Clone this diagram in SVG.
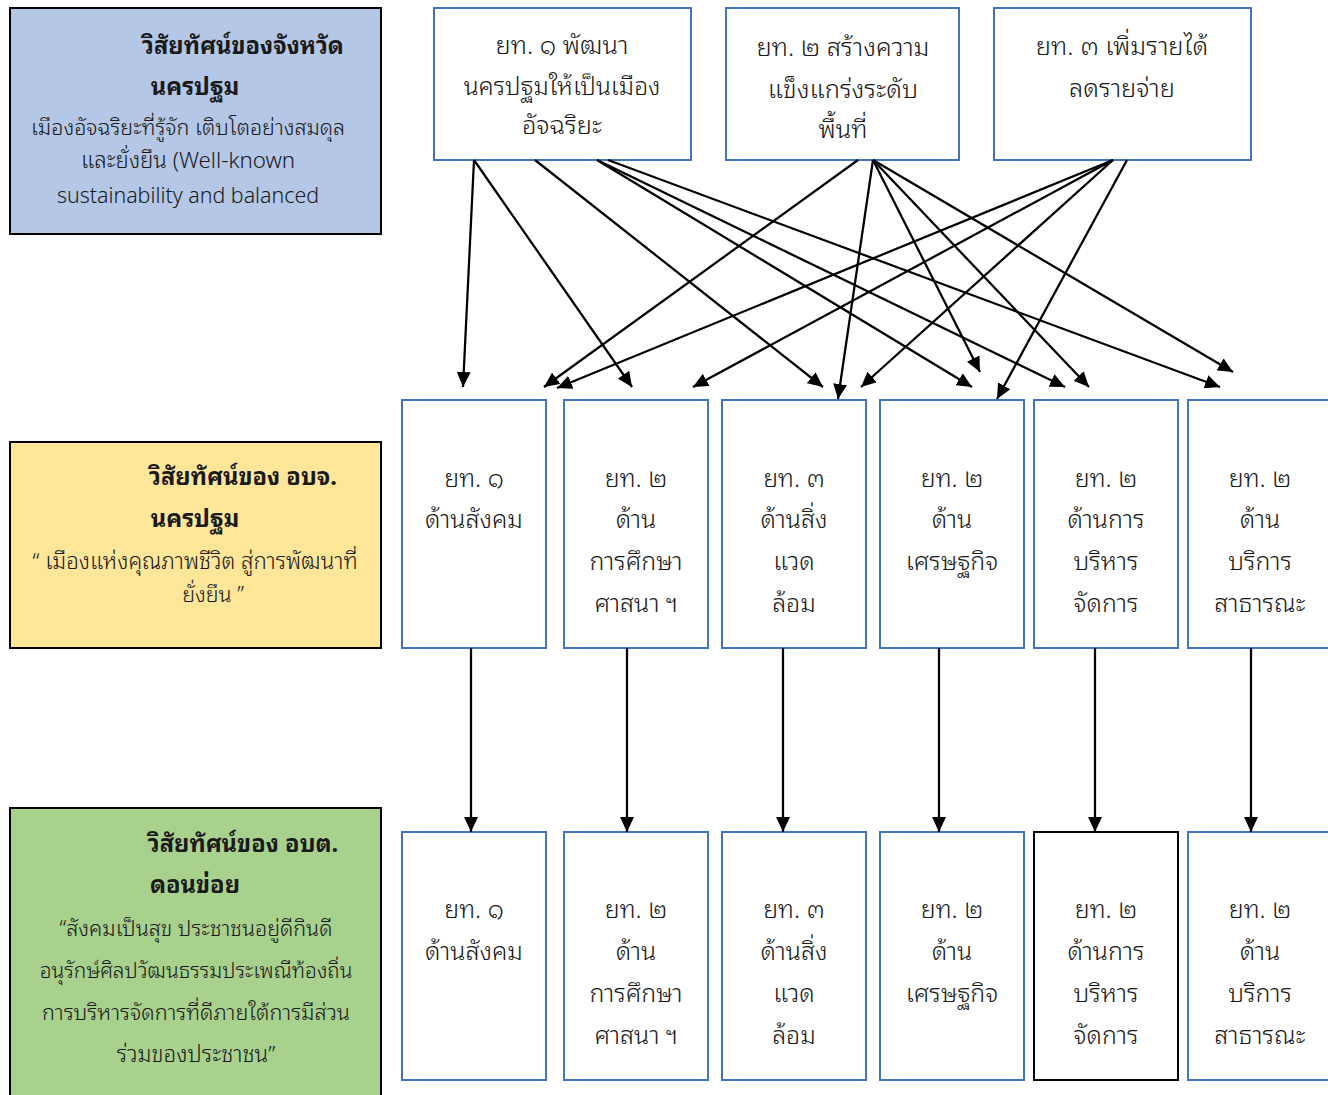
<svg xmlns="http://www.w3.org/2000/svg" width="1328" height="1095" viewBox="0 0 1328 1095">
<defs>
<marker id="ah" markerUnits="userSpaceOnUse" markerWidth="16" markerHeight="14" refX="15" refY="7" orient="auto">
<path d="M0,0 L15,7 L0,14 z" fill="#000"/>
</marker>
<style>
text{font-family:"Noto Sans Thai Looped","Noto Sans Thai","Noto Sans","DejaVu Sans",sans-serif;font-size:25px;font-weight:300;fill:#1a1a1a;text-anchor:middle}
.t{font-size:25.5px}
.b{font-weight:bold;font-size:23.7px}
.v{font-size:21.5px}
.vis{stroke:#000;stroke-width:2}
.n rect{fill:#fff;stroke:#4472C4;stroke-width:2}
.n rect.k{stroke:#000}
.c line{stroke:#000;stroke-width:2.25;marker-end:url(#ah)}
</style>
</defs>
<rect width="1328" height="1095" fill="#fff"/>

<g id="vision-province">
<rect class="vis" x="10" y="8" width="371" height="226" fill="#B4C7E7"/>
<text class="b" x="243" y="54">วิสัยทัศน์ของจังหวัด</text>
<text class="b" x="195" y="95">นครปฐม</text>
<text class="v" x="188" y="135">เมืองอัจฉริยะที่รู้จัก เติบโตอย่างสมดุล</text>
<text class="v" x="188" y="168" style="font-size:22.3px">และยั่งยืน (Well-known</text>
<text class="v" x="188" y="203" style="font-size:21.4px">sustainability and balanced</text>
</g>

<g id="vision-pao">
<rect class="vis" x="10" y="442" width="371" height="206" fill="#FFE699"/>
<text class="b" x="243" y="485">วิสัยทัศน์ของ อบจ.</text>
<text class="b" x="195" y="527">นครปฐม</text>
<text class="v" x="195" y="569" style="font-size:22.3px">“ เมืองแห่งคุณภาพชีวิต สู่การพัฒนาที่</text>
<text class="v" x="213" y="602">ยั่งยืน ”</text>
</g>

<g id="vision-sao">
<rect class="vis" x="10" y="808" width="371" height="300" fill="#A9D18E"/>
<text class="b" x="243" y="852">วิสัยทัศน์ของ อบต.</text>
<text class="b" x="195" y="893">ดอนข่อย</text>
<text class="v" x="196" y="936">“สังคมเป็นสุข ประชาชนอยู่ดีกินดี</text>
<text class="v" x="196" y="978" style="font-size:20.9px">อนุรักษ์ศิลปวัฒนธรรมประเพณีท้องถิ่น</text>
<text class="v" x="196" y="1020" style="font-size:21.7px">การบริหารจัดการที่ดีภายใต้การมีส่วน</text>
<text class="v" x="196" y="1062" style="font-size:22.5px">ร่วมของประชาชน”</text>
</g>

<g id="t1" class="n">
<rect x="434" y="8" width="257" height="152"/>
<text class="t" x="562" y="54">ยท. ๑ พัฒนา</text>
<text class="t" x="562" y="95" style="font-size:24.6px">นครปฐมให้เป็นเมือง</text>
<text class="t" x="562" y="134">อัจฉริยะ</text>
</g>
<g id="t2" class="n">
<rect x="726" y="8" width="233" height="152"/>
<text class="t" x="843" y="56">ยท. ๒ สร้างความ</text>
<text class="t" x="843" y="98">แข็งแกร่งระดับ</text>
<text class="t" x="843" y="138">พื้นที่</text>
</g>
<g id="t3" class="n">
<rect x="994" y="8" width="257" height="152"/>
<text class="t" x="1122" y="55">ยท. ๓ เพิ่มรายได้</text>
<text class="t" x="1122" y="97">ลดรายจ่าย</text>
</g>

<g id="m1" class="n"><rect x="402" y="400" width="144" height="248"/>
<text x="474" y="487">ยท. ๑</text><text x="474" y="528">ด้านสังคม</text></g>
<g id="m2" class="n"><rect x="564" y="400" width="144" height="248"/>
<text x="636" y="487">ยท. ๒</text><text x="636" y="528">ด้าน</text><text x="636" y="570">การศึกษา</text><text x="636" y="612">ศาสนา ฯ</text></g>
<g id="m3" class="n"><rect x="722" y="400" width="144" height="248"/>
<text x="794" y="487">ยท. ๓</text><text x="794" y="528">ด้านสิ่ง</text><text x="794" y="570">แวด</text><text x="794" y="612">ล้อม</text></g>
<g id="m4" class="n"><rect x="880" y="400" width="144" height="248"/>
<text x="952" y="487">ยท. ๒</text><text x="952" y="528">ด้าน</text><text x="952" y="570">เศรษฐกิจ</text></g>
<g id="m5" class="n"><rect x="1034" y="400" width="144" height="248"/>
<text x="1106" y="487">ยท. ๒</text><text x="1106" y="528">ด้านการ</text><text x="1106" y="570">บริหาร</text><text x="1106" y="612">จัดการ</text></g>
<g id="m6" class="n"><rect x="1188" y="400" width="144" height="248"/>
<text x="1260" y="487">ยท. ๒</text><text x="1260" y="528">ด้าน</text><text x="1260" y="570">บริการ</text><text x="1260" y="612">สาธารณะ</text></g>

<g id="b1" class="n"><rect x="402" y="832" width="144" height="248"/>
<text x="474" y="918">ยท. ๑</text><text x="474" y="960">ด้านสังคม</text></g>
<g id="b2" class="n"><rect x="564" y="832" width="144" height="248"/>
<text x="636" y="918">ยท. ๒</text><text x="636" y="960">ด้าน</text><text x="636" y="1002">การศึกษา</text><text x="636" y="1044">ศาสนา ฯ</text></g>
<g id="b3" class="n"><rect x="722" y="832" width="144" height="248"/>
<text x="794" y="918">ยท. ๓</text><text x="794" y="960">ด้านสิ่ง</text><text x="794" y="1002">แวด</text><text x="794" y="1044">ล้อม</text></g>
<g id="b4" class="n"><rect x="880" y="832" width="144" height="248"/>
<text x="952" y="918">ยท. ๒</text><text x="952" y="960">ด้าน</text><text x="952" y="1002">เศรษฐกิจ</text></g>
<g id="b5" class="n"><rect class="k" x="1034" y="832" width="144" height="248"/>
<text x="1106" y="918">ยท. ๒</text><text x="1106" y="960">ด้านการ</text><text x="1106" y="1002">บริหาร</text><text x="1106" y="1044">จัดการ</text></g>
<g id="b6" class="n"><rect x="1188" y="832" width="144" height="248"/>
<text x="1260" y="918">ยท. ๒</text><text x="1260" y="960">ด้าน</text><text x="1260" y="1002">บริการ</text><text x="1260" y="1044">สาธารณะ</text></g>

<g id="connectors" class="c">
<line x1="474" y1="160" x2="463" y2="387"/>
<line x1="474" y1="160" x2="632" y2="387"/>
<line x1="535" y1="160" x2="823" y2="387"/>
<line x1="597" y1="160" x2="972" y2="387"/>
<line x1="597" y1="160" x2="1065" y2="387"/>
<line x1="608" y1="160" x2="1220" y2="387"/>
<line x1="858" y1="160" x2="544" y2="387"/>
<line x1="873" y1="160" x2="838" y2="399"/>
<line x1="873" y1="160" x2="980" y2="372"/>
<line x1="873" y1="160" x2="1089" y2="387"/>
<line x1="873" y1="160" x2="1233" y2="372"/>
<line x1="1113" y1="160" x2="557" y2="388"/>
<line x1="1113" y1="160" x2="693" y2="387"/>
<line x1="1113" y1="160" x2="861" y2="387"/>
<line x1="1127" y1="160" x2="997" y2="399"/>
<line x1="471" y1="648" x2="471" y2="832"/>
<line x1="627" y1="648" x2="627" y2="832"/>
<line x1="783" y1="648" x2="783" y2="832"/>
<line x1="939" y1="648" x2="939" y2="832"/>
<line x1="1095" y1="648" x2="1095" y2="832"/>
<line x1="1251" y1="648" x2="1251" y2="832"/>
</g>
</svg>
